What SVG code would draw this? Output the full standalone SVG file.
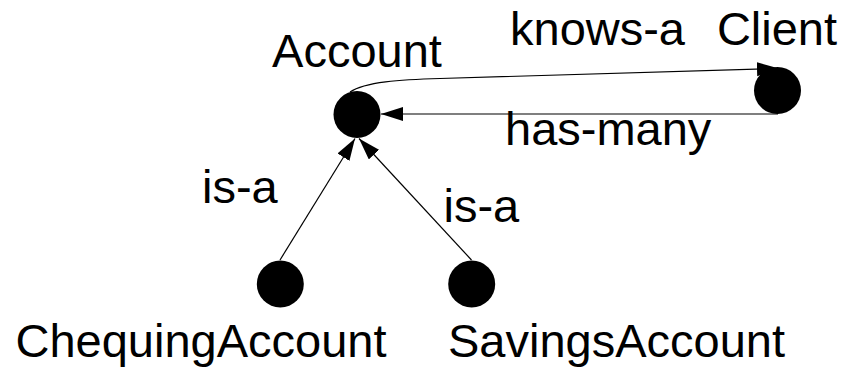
<svg xmlns="http://www.w3.org/2000/svg" width="845" height="368" viewBox="0 0 845 368">
<style>
text{font-family:"Liberation Sans",Arial,sans-serif;font-size:47px;fill:#000}
.node{fill:#000}
.edge{fill:none;stroke:#000;stroke-width:1.2}
</style>
<defs>
<marker id="arr" markerUnits="userSpaceOnUse" markerWidth="23" markerHeight="15" refX="22" refY="7" orient="auto">
<path d="M0,0 L22,7 L0,14 z" fill="#000"/>
</marker>
</defs>
<rect width="845" height="368" fill="#fff"/>
<g id="connectors">
<path class="edge" d="M350,92 C365,82 400,79.5 440,78.5 L779,68.5" marker-end="url(#arr)"/>
<path class="edge" d="M778,114 L381,114" marker-end="url(#arr)"/>
<path class="edge" d="M280,260 L355,138.5" marker-end="url(#arr)"/>
<path class="edge" d="M471.5,260 L359,138.5" marker-end="url(#arr)"/>
<text x="510" y="45">knows-a</text>
<text x="505" y="145">has-many</text>
<text x="202" y="203">is-a</text>
<text x="443.5" y="222">is-a</text>
</g>
<g id="Account">
<circle class="node" cx="357" cy="114.5" r="23.5"/>
<text x="357" y="67" text-anchor="middle">Account</text>
</g>
<g id="Client">
<circle class="node" cx="777.5" cy="90.5" r="23.5"/>
<text x="777" y="45" text-anchor="middle">Client</text>
</g>
<g id="ChequingAccount">
<circle class="node" cx="280.3" cy="284" r="23.5"/>
<text x="15.5" y="357">ChequingAccount</text>
</g>
<g id="SavingsAccount">
<circle class="node" cx="471.7" cy="284" r="23.5"/>
<text x="448" y="357">SavingsAccount</text>
</g>
</svg>
